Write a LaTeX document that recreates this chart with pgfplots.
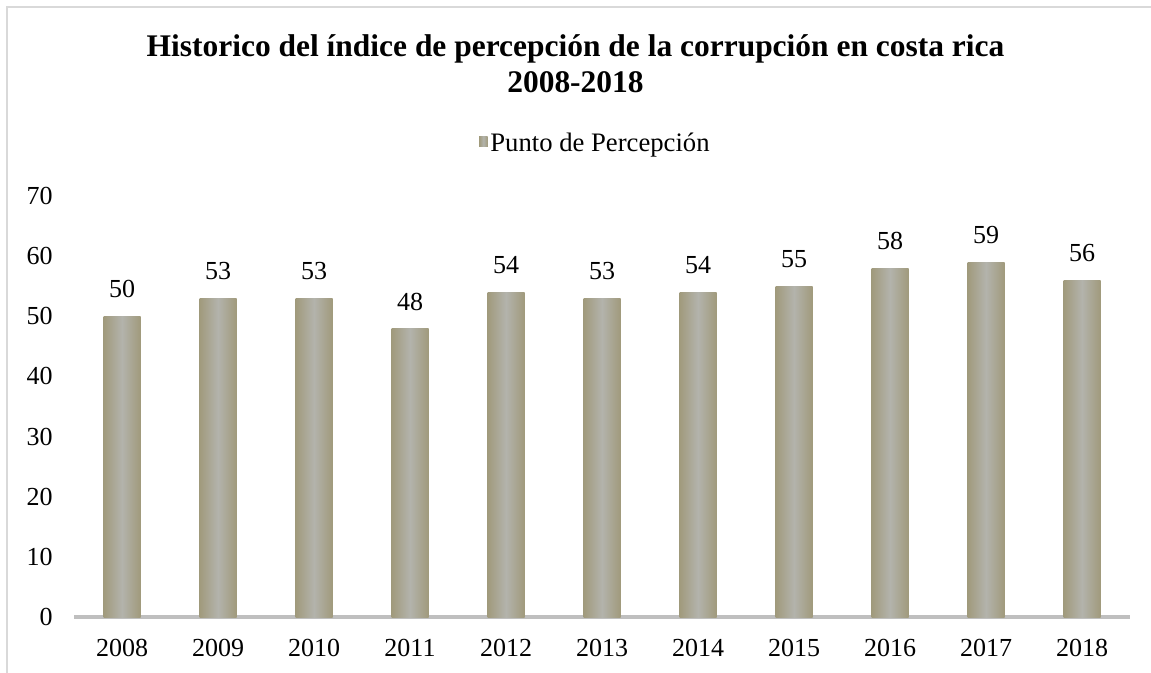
\documentclass[border=0pt]{standalone}
\usepackage{pgfplots}
\pgfplotsset{compat=1.18}
\usepackage{fontspec}
\setmainfont{Liberation Serif}
\definecolor{barEdge}{RGB}{160,154,124}
\definecolor{barMid}{RGB}{179,179,172}
\definecolor{legTan}{RGB}{166,157,122}
\definecolor{frameGray}{RGB}{217,217,217}
\definecolor{axisGray}{RGB}{191,191,191}
\pgfplotsset{gbar/.style={draw=none, left color=barEdge, right color=barEdge, middle color=barMid, bar shift=0pt}}
\begin{document}
\begin{tikzpicture}
\useasboundingbox (0pt,0pt) rectangle (863.25pt,-504.75pt);
\fill[white] (0pt,0pt) rectangle (863.25pt,-504.75pt);
\draw[frameGray, line width=1.2pt] (5.25pt,-504.75pt) -- (5.25pt,-5.25pt) -- (863.25pt,-5.25pt);
\node[anchor=base, font=\fontsize{23.6pt}{28pt}\selectfont\bfseries] at (431.6pt,-42.75pt) {Historico del índice de percepción de la corrupción en costa rica};
\node[anchor=base, font=\fontsize{23.6pt}{28pt}\selectfont\bfseries] at (431.6pt,-69.75pt) {2008-2018};
\begin{axis}[
  at={(55.5pt,-462.75pt)}, anchor=south west,
  scale only axis, width=792pt, height=315.75pt,
  xmin=-0.5, xmax=10.5, ymin=0, ymax=70,
  axis x line*=bottom, axis y line*=left,
  x axis line style={draw=axisGray, line width=2.5pt, -},
  y axis line style={draw=none},
  major tick length=0pt,
  xtick={0,1,2,3,4,5,6,7,8,9,10},
  xticklabels={2008,2009,2010,2011,2012,2013,2014,2015,2016,2017,2018},
  ytick={0,10,20,30,40,50,60,70},
  /pgf/number format/assume math mode=true,
  tick label style={font=\fontsize{19.5pt}{23pt}\selectfont},
  yticklabel style={xshift=-12.5pt},
  xticklabel style={yshift=-13pt},
  ybar, bar width=27.75pt,
  nodes near coords,
  nodes near coords style={font=\fontsize{19.5pt}{23pt}\selectfont, yshift=10pt},
  legend style={at={(0.494,1.126)}, anchor=center, draw=none, fill=none,
    font=\fontsize{20pt}{24pt}\selectfont, inner sep=0pt},
  legend image code/.code={\fill[legTan] (1pt,-3pt) rectangle (7.5pt,4.5pt);},
  clip=false,
]
\addplot[gbar] coordinates {(0,50)};
\addlegendentry{Punto de Percepción}
\addplot[gbar, forget plot] coordinates {(1,53)};
\addplot[gbar, forget plot] coordinates {(2,53)};
\addplot[gbar, forget plot] coordinates {(3,48)};
\addplot[gbar, forget plot] coordinates {(4,54)};
\addplot[gbar, forget plot] coordinates {(5,53)};
\addplot[gbar, forget plot] coordinates {(6,54)};
\addplot[gbar, forget plot] coordinates {(7,55)};
\addplot[gbar, forget plot] coordinates {(8,58)};
\addplot[gbar, forget plot] coordinates {(9,59)};
\addplot[gbar, forget plot] coordinates {(10,56)};
\end{axis}
\end{tikzpicture}
\end{document}
